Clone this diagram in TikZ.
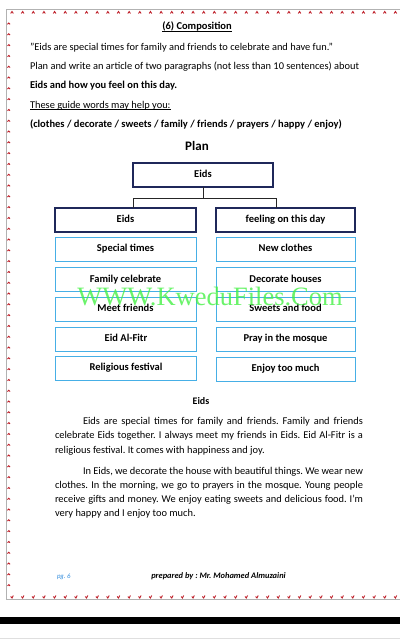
\documentclass[tikz,border=0pt]{standalone}
\usepackage{fontspec}
\setmainfont{Carlito}
\newfontfamily\wmfont{Liberation Serif}
\definecolor{navy}{RGB}{31,40,90}
\definecolor{lblue}{RGB}{70,175,230}
\definecolor{footblue}{RGB}{50,140,220}
\definecolor{stitch}{RGB}{190,30,40}
\definecolor{wmgreen}{RGB}{70,240,70}
\frenchspacing
\begin{document}
\begin{tikzpicture}[x=1pt,y=-1pt,
  every node/.style={inner sep=0pt, outer sep=0pt},
  txt/.style={font=\fontsize{10.4}{12}\selectfont, anchor=base west},
  boldtxt/.style={font=\fontsize{10.5}{12}\selectfont\bfseries, anchor=base west},
  navybox/.style={draw=navy, line width=1.4pt, minimum width=141pt, minimum height=24pt,
    font=\fontsize{10.5}{12}\selectfont\bfseries, text height=7pt, text depth=2pt},
  bluebox/.style={draw=lblue, line width=1pt, minimum width=141pt, minimum height=24pt,
    font=\fontsize{10.5}{12}\selectfont\bfseries, text height=7pt, text depth=2pt},
  link/.style={draw=black!85, line width=0.9pt},
  stitchmark/.style={draw=stitch, line width=0.9pt},
  frame/.style={draw=gray!60, line width=1.3pt}]
\useasboundingbox (0,0) rectangle (400,640);

% page frame
\draw[frame] (400,9.5) -- (6.5,9.5) -- (6.5,599.5) -- (400,599.5);
\foreach \i in {0,...,36} {
  \pgfmathsetmacro\xx{12+10.65*\i}
  \draw[stitchmark] (\xx-1.3,13.5) -- (\xx,11.5) -- (\xx+1.3,13.5);
  \draw[stitchmark] (\xx-1.3,596.5) -- (\xx,598) -- (\xx+1.3,595.5);
}
\foreach \i in {0,...,52} {
  \pgfmathsetmacro\yy{23+10.8*\i}
  \draw[stitchmark] (7.5,\yy+1.3) -- (8.8,\yy) -- (10,\yy+1.3);
}
\fill[black] (0,617) rectangle (400,624);
\draw[gray!25, line width=0.8pt] (0,638.5) -- (400,638.5);

% header text
\node[boldtxt, anchor=base] (title) at (197,29.5) {(6) Composition};
\draw[line width=0.6pt] ([yshift=-1.6pt]title.base west) -- ([yshift=-1.6pt]title.base east);
\node[txt] (l1) at (30,50) {"Eids are special times for family and friends to celebrate and have fun."};
\node[txt] (l2) at (30,69.5) {Plan and write an article of two paragraphs (not less than 10 sentences) about};
\node[boldtxt] (l3) at (30,88.5) {Eids and how you feel on this day.};
\node[txt] (l4) at (30,108) {These guide words may help you:};
\draw[line width=0.6pt] ([yshift=-1.6pt]l4.base west) -- ([yshift=-1.6pt]l4.base east);
\node[boldtxt] (l5) at (30,127.5) {(clothes / decorate / sweets / family / friends / prayers / happy / enjoy)};

\node[font=\fontsize{13}{15}\selectfont\bfseries, anchor=base] (plan) at (197,150) {Plan};

% tree
\node[navybox, minimum width=140pt] (top) at (203,175) {Eids};
\node[navybox] (L) at (125.5,220) {Eids};
\node[navybox, minimum width=139pt] (R) at (285.5,220) {feeling on this day};
\coordinate (jn) at (203,198);
\coordinate (bl) at (133,198);
\coordinate (br) at (276,198);
\draw[link] (top.south) -- (jn);
\draw[link] (bl) -- (br);
\draw[link] (bl) -- (bl |- L.north);
\draw[link] (br) -- (br |- R.north);

\node[bluebox] (a1) at (125.5,249) {Special times};
\node[bluebox] (a2) at (125.5,279.5) {Family celebrate};
\node[bluebox] (a3) at (125.5,309) {Meet friends};
\node[bluebox] (a4) at (126,339) {Eid Al-Fitr};
\node[bluebox] (a5) at (126,368) {Religious festival};
\node[bluebox, minimum width=139pt] (b1) at (285.5,249) {New clothes};
\node[bluebox, minimum width=139pt] (b2) at (285.5,279.5) {Decorate houses};
\node[bluebox, minimum width=139pt] (b3) at (285.5,309) {Sweets and food};
\node[bluebox, minimum width=139pt] (b4) at (285.5,339) {Pray in the mosque};
\node[bluebox, minimum width=139pt] (b5) at (285.5,369) {Enjoy too much};

% watermark
\node[font=\wmfont\fontsize{26.5}{28}\selectfont, text=wmgreen, opacity=0.8, anchor=base] (wm) at (210,305) {WWW.KweduFiles.Com};

% model answer
\node[boldtxt, font=\fontsize{10}{12}\selectfont\bfseries, anchor=base] (h) at (201,404) {Eids};
\node[txt] (p1) at (83,424) {\makebox[280pt][s]{Eids are special times for family and friends. Family and friends}};
\node[txt] (p2) at (55,438.5) {\makebox[308pt][s]{celebrate Eids together. I always meet my friends in Eids. Eid Al-Fitr is a}};
\node[txt] (p3) at (55,453) {religious festival. It comes with happiness and joy.};
\node[txt] (p4) at (83,474) {\makebox[280pt][s]{In Eids, we decorate the house with beautiful things. We wear new}};
\node[txt] (p5) at (55,488.5) {\makebox[308pt][s]{clothes. In the morning, we go to prayers in the mosque. Young people}};
\node[txt] (p6) at (55,502.5) {\makebox[308pt][s]{receive gifts and money. We enjoy eating sweets and delicious food. I’m}};
\node[txt] (p7) at (55,516.5) {very happy and I enjoy too much.};

% footer
\node[font=\fontsize{6.8}{8}\selectfont\itshape, text=footblue, anchor=base west] (pg) at (57,578) {pg. 6};
\node[font=\fontsize{8.4}{10}\selectfont\bfseries\itshape, anchor=base] (prep) at (218.5,578) {prepared by : Mr. Mohamed Almuzaini};
\end{tikzpicture}
\end{document}
